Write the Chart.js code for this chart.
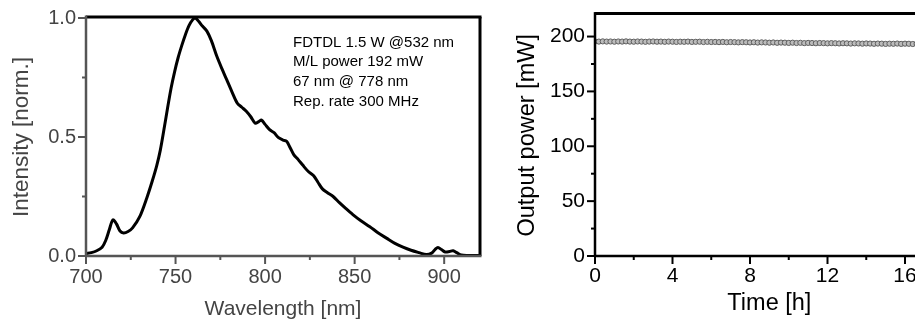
<!DOCTYPE html>
<html>
<head>
<meta charset="utf-8">
<script src="https://cdn.jsdelivr.net/npm/chart.js@4"></script>
<style>
  html, body { margin: 0; padding: 0; background: #fff; overflow: hidden; width: 915px; height: 323px; }
  .panel { position: absolute; top: 0; height: 323px; }
  #specBox { left: 0; width: 490px; }
  #powerBox { left: 500px; width: 460px; }
</style>
</head>
<body>
<div class="panel" id="specBox"><canvas id="specChart"></canvas></div>
<div class="panel" id="powerBox"><canvas id="powerChart"></canvas></div>
<script>
// spectrum (left panel)
const wavelength = [700, 703, 706, 709, 711, 713, 715, 717, 719, 721, 723.5, 726, 730, 734, 737, 739.5, 741.5, 743.5, 745.5, 747.5,
  749.5, 751.5, 753.5, 755.5, 757.5, 759.5, 761, 763, 765, 767.5, 770, 773, 776, 778.5, 781.5, 784.5, 787, 789.5, 792, 794.5,
  796.5, 798, 800, 802.5, 805, 807.5, 810, 812, 814, 816, 818.5, 821, 824, 827, 829.5, 832, 835, 838, 841.5, 845,
  849, 853.5, 858.5, 863, 868, 872.5, 877, 881.5, 886, 890, 893, 895, 896.5, 898.5, 900.5, 903, 905, 907, 909.5, 913, 920];
const intensity = [0.01, 0.014, 0.022, 0.037, 0.065, 0.11, 0.152, 0.135, 0.105, 0.097, 0.103, 0.118, 0.165, 0.245, 0.315, 0.38, 0.445, 0.53, 0.62, 0.705,
  0.775, 0.835, 0.885, 0.93, 0.968, 0.992, 1.0, 0.985, 0.966, 0.945, 0.905, 0.84, 0.785, 0.742, 0.69, 0.642, 0.625, 0.608, 0.585, 0.558,
  0.565, 0.571, 0.553, 0.531, 0.518, 0.497, 0.487, 0.482, 0.455, 0.426, 0.405, 0.382, 0.356, 0.338, 0.31, 0.282, 0.265, 0.25, 0.224, 0.2,
  0.174, 0.148, 0.123, 0.098, 0.074, 0.053, 0.037, 0.024, 0.014, 0.006, 0.012, 0.028, 0.036, 0.027, 0.017, 0.019, 0.022, 0.014, 0.004, 0.002, 0.002];
const wlTicks = [700, 750, 800, 850, 900];
const wlMinor = [725, 775, 825, 875];
const intTicks = [0, 0.5, 1.0];
const intMinor = [0.25, 0.75];
const notes = ['FDTDL 1.5 W @532 nm', 'M/L power 192 mW', '67 nm @ 778 nm', 'Rep. rate 300 MHz'];

// output power over time (right panel)
const hours = [0, 0.2, 0.4, 0.6, 0.8, 1, 1.2, 1.4, 1.6, 1.8, 2, 2.2, 2.4, 2.6, 2.8, 3, 3.2, 3.4, 3.6, 3.8,
  4, 4.2, 4.4, 4.6, 4.8, 5, 5.2, 5.4, 5.6, 5.8, 6, 6.2, 6.4, 6.6, 6.8, 7, 7.2, 7.4, 7.6, 7.8,
  8, 8.2, 8.4, 8.6, 8.8, 9, 9.2, 9.4, 9.6, 9.8, 10, 10.2, 10.4, 10.6, 10.8, 11, 11.2, 11.4, 11.6, 11.8,
  12, 12.2, 12.4, 12.6, 12.8, 13, 13.2, 13.4, 13.6, 13.8, 14, 14.2, 14.4, 14.6, 14.8, 15, 15.2, 15.4, 15.6, 15.8,
  16, 16.2, 16.4, 16.6, 16.8];
const power = [195.5, 195.4, 195.6, 195.4, 195.5, 195.3, 195.5, 195.4, 195.6, 195.4, 195.3, 195.5, 195.4, 195.2, 195.4, 195.5, 195.3, 195.4, 195.2, 195.4,
  195.3, 195.1, 195.3, 195.2, 195.4, 195.1, 195.2, 195.3, 195.0, 195.2, 195.0, 195.1, 194.9, 195.1, 194.8, 195.0, 194.9, 194.7, 194.9, 194.8,
  194.6, 194.8, 194.5, 194.7, 194.6, 194.4, 194.6, 194.3, 194.5, 194.4, 194.2, 194.4, 194.1, 194.3, 194.0, 194.2, 194.1, 193.9, 194.1, 194.0,
  193.8, 194.0, 193.9, 193.7, 193.9, 193.8, 193.6, 193.8, 193.7, 193.5, 193.7, 193.6, 193.4, 193.6, 193.5, 193.3, 193.5, 193.4, 193.6, 193.3,
  193.5, 193.4, 193.2, 193.4, 193.3];
const hourTicks = [0, 4, 8, 12, 16];
const hourMinor = [2, 6, 10, 14];
const powerTicks = [0, 50, 100, 150, 200];
const powerMinor = [25, 75, 125, 175];

const FONT = '"Liberation Sans", Arial, sans-serif';

// spines + major/minor tick marks drawn from the scales
const frame = {
  id: 'frame',
  afterDraw(chart, args, o) {
    const { ctx, chartArea: a, scales: { x, y } } = chart;
    const seg = (x1, y1, x2, y2, color, w) => {
      ctx.beginPath(); ctx.strokeStyle = color; ctx.lineWidth = w;
      ctx.moveTo(x1, y1); ctx.lineTo(x2, y2); ctx.stroke();
    };
    ctx.save();
    o.xMajor.forEach(v => { const p = x.getPixelForValue(v); seg(p, a.bottom, p, a.bottom + 8, o.tick, 2); });
    o.xMinor.forEach(v => { const p = x.getPixelForValue(v); seg(p, a.bottom, p, a.bottom + 4, o.tick, 2); });
    o.yMajor.forEach(v => { const p = y.getPixelForValue(v); seg(a.left - 8, p, a.left, p, o.tick, 2); });
    o.yMinor.forEach(v => { const p = y.getPixelForValue(v); seg(a.left - 4, p, a.left, p, o.tick, 2); });
    seg(a.left, a.top - 1, a.right + 1.5, a.top - 1, o.top, 3);
    seg(a.right, a.top - 1, a.right, a.bottom, o.right, 3);
    seg(a.left, a.bottom, a.right + 1.5, a.bottom, o.bottom, 2.5);
    seg(a.left, a.top - 2.5, a.left, a.bottom + 1, o.left, 2.5);
    ctx.restore();
  }
};

const noteText = {
  id: 'noteText',
  afterDraw(chart, args, o) {
    if (!o.lines) return;
    const { ctx } = chart;
    ctx.save();
    ctx.font = '15px ' + FONT;
    ctx.fillStyle = '#000';
    ctx.textBaseline = 'middle';
    o.lines.forEach((t, i) => ctx.fillText(t, 293, 42.5 + i * 19.7));
    ctx.restore();
  }
};

function fixedTicks(arr) {
  return scale => { scale.ticks = arr.map(v => ({ value: v })); };
}

new Chart(document.getElementById('specChart'), {
  type: 'line',
  data: {
    datasets: [{
      data: wavelength.map((w, i) => ({ x: w, y: intensity[i] })),
      borderColor: '#000', borderWidth: 3, pointRadius: 0, tension: 0.3, fill: false
    }]
  },
  options: {
    responsive: true, maintainAspectRatio: false, animation: false,
    layout: { padding: { top: 18, right: 10, left: 0, bottom: 0 } },
    plugins: {
      legend: { display: false }, tooltip: { enabled: false },
      frame: { xMajor: wlTicks, xMinor: wlMinor, yMajor: intTicks, yMinor: intMinor,
        tick: '#555', top: '#000', right: '#000', bottom: '#555', left: '#555' },
      noteText: { lines: notes }
    },
    scales: {
      x: {
        type: 'linear', min: 700, max: 920,
        afterBuildTicks: fixedTicks(wlTicks),
        afterFit: s => { s.height = 67; },
        grid: { drawOnChartArea: false, color: 'rgba(0,0,0,0)', tickLength: 8 },
        border: { display: false },
        ticks: { color: '#444', font: { family: FONT, size: 20 }, padding: 1, maxRotation: 0 },
        title: { display: true, text: 'Wavelength [nm]', color: '#444', font: { family: FONT, size: 21 }, padding: { bottom: 1.4, top: 0 } }
      },
      y: {
        min: 0, max: 1,
        afterBuildTicks: fixedTicks(intTicks),
        afterFit: s => { s.width = 86; },
        grid: { drawOnChartArea: false, color: 'rgba(0,0,0,0)', tickLength: 8 },
        border: { display: false },
        ticks: { color: '#444', font: { family: FONT, size: 20 }, padding: 2, callback: v => v.toFixed(1) },
        title: { display: true, text: 'Intensity [norm.]', color: '#444', font: { family: FONT, size: 22.5 }, padding: { top: 8.5, bottom: 0 } }
      }
    }
  },
  plugins: [frame, noteText]
});

new Chart(document.getElementById('powerChart'), {
  type: 'scatter',
  data: {
    datasets: [{
      data: hours.map((h, i) => ({ x: h, y: power[i] })),
      showLine: false, pointStyle: 'circle', pointRadius: 2.6, borderWidth: 1,
      borderColor: '#5e5e5e', backgroundColor: '#bcbcbc'
    }]
  },
  options: {
    responsive: true, maintainAspectRatio: false, animation: false,
    layout: { padding: { top: 13, right: 16.25, left: 0, bottom: 0 } },
    plugins: {
      legend: { display: false }, tooltip: { enabled: false },
      frame: { xMajor: hourTicks, xMinor: hourMinor, yMajor: powerTicks, yMinor: powerMinor,
        tick: '#000', top: '#000', right: '#000', bottom: '#000', left: '#000' }
    },
    scales: {
      x: {
        type: 'linear', min: 0, max: 18,
        afterBuildTicks: fixedTicks(hourTicks),
        afterFit: s => { s.height = 67; },
        grid: { drawOnChartArea: false, color: 'rgba(0,0,0,0)', tickLength: 8 },
        border: { display: false },
        ticks: { color: '#000', font: { family: FONT, size: 21 }, padding: 0, maxRotation: 0 },
        title: { display: true, text: 'Time [h]', color: '#000', font: { family: FONT, size: 23.5 }, padding: { bottom: 5.5, top: 0 } }
      },
      y: {
        min: 0, max: 220,
        afterBuildTicks: fixedTicks(powerTicks),
        afterFit: s => { s.width = 95; },
        grid: { drawOnChartArea: false, color: 'rgba(0,0,0,0)', tickLength: 8 },
        border: { display: false },
        ticks: { color: '#000', font: { family: FONT, size: 21 }, padding: 2 },
        title: { display: true, text: 'Output power [mW]', color: '#000', font: { family: FONT, size: 23.5 }, padding: { top: 13.9, bottom: 0 } }
      }
    }
  },
  plugins: [frame]
});
</script>
</body>
</html>
